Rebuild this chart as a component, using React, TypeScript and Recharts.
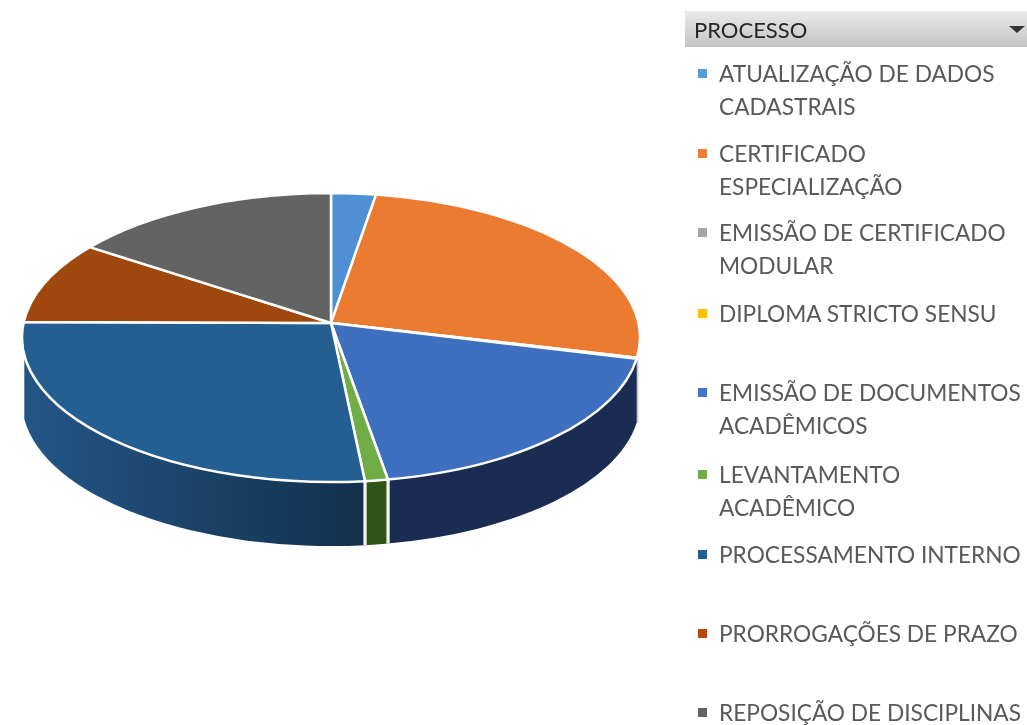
import React from "react";
import { PieChart, Pie, Legend } from "recharts";

const categories = [
  "ATUALIZAÇÃO DE DADOS\nCADASTRAIS",
  "CERTIFICADO\nESPECIALIZAÇÃO",
  "EMISSÃO DE CERTIFICADO\nMODULAR",
  "DIPLOMA STRICTO SENSU",
  "EMISSÃO DE DOCUMENTOS\nACADÊMICOS",
  "LEVANTAMENTO\nACADÊMICO",
  "PROCESSAMENTO INTERNO",
  "PRORROGAÇÕES DE PRAZO",
  "REPOSIÇÃO DE DISCIPLINAS",
];
const values = [2.33, 24.9, 0.1, 0.02, 19.7, 1.2, 28.45, 9.05, 14.25];
const topColors = ["#4f8fd3", "#ea7b30", "#a5a5a5", "#ffc000", "#3f6fbf", "#70ad47", "#255e91", "#9e480e", "#636363"];
const wallStart = ["#2f5a85", "#8c4a1d", "#c9c9c9", "#997300", "#1a2c52", "#2f5418", "#235688", "#5f2b08", "#3b3b3b"];
const wallEnd = ["#2f5a85", "#8c4a1d", "#c9c9c9", "#997300", "#1a2c52", "#2f5418", "#13304b", "#5f2b08", "#3b3b3b"];
const markerColors = ["#5b9bd5", "#ed7d31", "#a5a5a5", "#ffc000", "#4472c4", "#70ad47", "#255e91", "#b5480e", "#636363"];
const legendLeadRows = [73, 153, 232, 313, 392, 474, 554, 633, 712];
const headerTitle = "PROCESSO";

const rows = categories.map((name, i) => ({
  name,
  value: values[i],
  fill: topColors[i],
  wallStart: wallStart[i],
  wallEnd: wallEnd[i],
  marker: markerColors[i],
}));

const SQUASH = 144.5 / 309;
const APEX_LIFT = 14.5;
const DEPTH = 64;
const WALL_FROM = 98;
const WALL_TO = 263;
const rad = (d: number) => (d * Math.PI) / 180;

function Slice3D(props: any) {
  const { cx, cy, outerRadius, startAngle, endAngle, fill, index } = props;
  const entry = props.payload ?? props;
  const rx = outerRadius;
  const ry = outerRadius * SQUASH;
  const pt = (t: number, dy = 0) => [cx + rx * Math.sin(rad(t)), cy - ry * Math.cos(rad(t)) + dy];
  const t0 = 90 - startAngle;
  const t1 = 90 - endAngle;
  const [x0, y0] = pt(t0);
  const [x1, y1] = pt(t1);
  const large = t1 - t0 > 180 ? 1 : 0;
  const top = `M${cx},${cy - APEX_LIFT} L${x0},${y0} A${rx},${ry} 0 ${large} 1 ${x1},${y1} Z`;

  const a = Math.max(t0, WALL_FROM);
  const b = Math.min(t1, WALL_TO);
  const hasWall = b > a;
  let wall = "";
  let seams: number[][] = [];
  if (hasWall) {
    const [ax, ay] = pt(a);
    const [bx, by] = pt(b);
    wall =
      `M${ax},${ay} A${rx},${ry} 0 ${b - a > 180 ? 1 : 0} 1 ${bx},${by} ` +
      `L${bx},${by + DEPTH} A${rx},${ry} 0 ${b - a > 180 ? 1 : 0} 0 ${ax},${ay + DEPTH} Z`;
    if (a > 150 && a < 210) seams.push([ax, ay]);
    if (b > 150 && b < 210) seams.push([bx, by]);
  }
  const gid = `wall-${index ?? Math.round(t0)}`;
  const sliver = entry.wallStart === "#c9c9c9";
  return (
    <g>
      {hasWall && (
        <>
          <defs>
            <linearGradient id={gid} gradientUnits="userSpaceOnUse" x1={cx - rx} x2={cx + 34} y1={0} y2={0}>
              <stop offset="0" stopColor={entry.wallStart} />
              <stop offset="1" stopColor={entry.wallEnd} />
            </linearGradient>
          </defs>
          <path d={wall} fill={`url(#${gid})`} stroke={sliver ? "#c9c9c9" : "none"} strokeWidth={3} />
          {seams.map(([sx, sy], i) => (
            <line key={i} x1={sx} y1={sy} x2={sx} y2={sy + DEPTH} stroke="#f2f6ea" strokeWidth={3} />
          ))}
        </>
      )}
      <path d={top} fill={fill} stroke="#ffffff" strokeWidth={2.5} strokeLinejoin="round" />
    </g>
  );
}

function SideLegend({ payload }: any) {
  const items = (payload ?? []) as any[];
  return (
    <div style={{ position: "absolute", left: 0, top: 0, width: 1027, height: 725, fontFamily: "Lato, sans-serif", pointerEvents: "none" }}>
      <div
        style={{
          position: "absolute",
          left: 685,
          top: 11,
          width: 342,
          height: 36,
          background: "linear-gradient(#e9e9e9, #c4c4c4)",
          color: "#262626",
          fontSize: 22,
          lineHeight: "37px",
          paddingLeft: 9,
          boxSizing: "border-box",
        }}
      >
        {headerTitle}
        <div
          style={{
            position: "absolute",
            left: 324,
            top: 15,
            width: 0,
            height: 0,
            borderLeft: "8px solid transparent",
            borderRight: "8px solid transparent",
            borderTop: "7px solid #333",
          }}
        />
      </div>
      {items.map((it, i) => {
        const label = String(it.value).split("\n");
        const lead = legendLeadRows[i];
        const color = it.payload?.marker ?? markerColors[i];
        return (
          <div key={i}>
            <div style={{ position: "absolute", left: 698, top: lead - 4, width: 9, height: 9, background: color }} />
            {label.map((ln, j) => (
              <div
                key={j}
                style={{
                  position: "absolute",
                  left: 719,
                  top: lead - 11 + j * 32.5,
                  lineHeight: "24px",
                  fontSize: 22.7,
                  color: "#595959",
                  whiteSpace: "nowrap",
                }}
              >
                {ln}
              </div>
            ))}
          </div>
        );
      })}
    </div>
  );
}

export default function App() {
  return (
    <div style={{ position: "absolute", left: 0, top: 0, width: 1027, height: 725, background: "#fff", overflow: "hidden", filter: "blur(0.6px)" }}>
      <PieChart width={1027} height={725} margin={{ top: 0, right: 0, bottom: 0, left: 0 }}>
        <Pie
          data={rows}
          dataKey="value"
          nameKey="name"
          cx={331}
          cy={337.5}
          outerRadius={309}
          innerRadius={0}
          startAngle={90}
          endAngle={-270}
          stroke="#fff"
          isAnimationActive={false}
          shape={Slice3D}
          activeShape={Slice3D}
          inactiveShape={Slice3D}
        />
        <Legend itemSorter={null} content={<SideLegend />} wrapperStyle={{ position: "absolute", left: 0, top: 0, width: 1027, height: 725 }} />
      </PieChart>
    </div>
  );
}
